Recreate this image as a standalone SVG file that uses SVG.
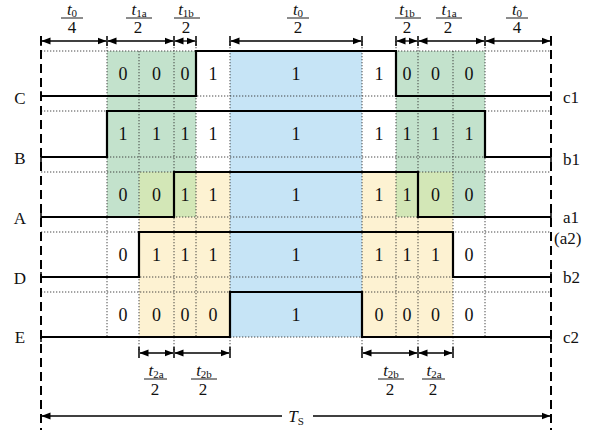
<svg xmlns="http://www.w3.org/2000/svg" width="603" height="430" viewBox="0 0 603 430" font-family="'Liberation Serif','Times New Roman',serif">
<style>
.t{font-family:"Liberation Serif","Times New Roman",serif;fill:#111}
.dig{font-size:18px;text-anchor:middle}
.lbl{font-size:17px;text-anchor:middle}
.rl{font-size:17px}
.num{font-size:17px;font-style:italic;text-anchor:middle}
.sub{font-size:11px;font-style:normal}
.den{font-size:17px;text-anchor:middle}
.dot{stroke:#333;stroke-width:0.9;stroke-dasharray:1.3 1.7;fill:none}
.sig{stroke:#000;stroke-width:2.2;fill:none;stroke-linejoin:miter}
.dim{stroke:#000;stroke-width:1.3;fill:none}
.tick{stroke:#000;stroke-width:1.5}
.dash{stroke:#000;stroke-width:2;stroke-dasharray:9 5;fill:none}
.bar{stroke:#000;stroke-width:0.9}
</style>
<defs>
<marker id="ah" markerWidth="9" markerHeight="8" refX="8.5" refY="4" orient="auto-start-reverse" markerUnits="userSpaceOnUse">
<path d="M0,0.5 L9,4 L0,7.5 z" fill="#000"/>
</marker>
</defs>

<g id="fills">
<rect x="107" y="51" width="89" height="166" fill="#c3e2cc"/>
<rect x="396" y="51" width="89" height="166" fill="#c3e2cc"/>
<rect x="139" y="172" width="91" height="165" fill="#fdf2d2"/>
<rect x="362" y="172" width="91" height="165" fill="#fdf2d2"/>
<rect x="139" y="172" width="57" height="45" fill="#d3e7b7"/>
<rect x="396" y="172" width="57" height="45" fill="#d3e7b7"/>
<rect x="230" y="51" width="132" height="286" fill="#c6e4f6"/>
</g>

<g id="grid">
<path class="dot" d="M41,51H551M41,96H551M41,111H551M41,157H551M41,172H551M41,217H551M41,232H551M41,277H551M41,292H551M41,337H551"/>
<path class="dot" d="M107,41V337M139,51V337M174,41V337M196,41V337M230,41V337M362,41V337M396,41V337M418,41V337M453,51V337M485,41V337"/>
<path class="dot" d="M139,337V350M174,337V350M230,337V350M362,337V350M418,337V350M453,337V350"/>
<path class="dash" d="M41,36V430M551,36V430"/>
</g>

<g id="connectors">
<g id="top-dims">
<path class="tick" d="M41,36V46M107,36V46M174,36V46M196,36V46M230,36V46M362,36V46M396,36V46M418,36V46M485,36V46M551,36V46"/>
<line class="dim" x1="42" y1="41" x2="106" y2="41" marker-start="url(#ah)" marker-end="url(#ah)"/>
<line class="dim" x1="108" y1="41" x2="173" y2="41" marker-start="url(#ah)" marker-end="url(#ah)"/>
<line class="dim" x1="175" y1="41" x2="195" y2="41" marker-start="url(#ah)" marker-end="url(#ah)"/>
<line class="dim" x1="231" y1="41" x2="361" y2="41" marker-start="url(#ah)" marker-end="url(#ah)"/>
<line class="dim" x1="397" y1="41" x2="417" y2="41" marker-start="url(#ah)" marker-end="url(#ah)"/>
<line class="dim" x1="419" y1="41" x2="484" y2="41" marker-start="url(#ah)" marker-end="url(#ah)"/>
<line class="dim" x1="486" y1="41" x2="550" y2="41" marker-start="url(#ah)" marker-end="url(#ah)"/>
</g>
<g id="bottom-dims">
<path class="tick" d="M139,347V358M174,347V358M230,347V358M362,347V358M418,347V358M453,347V358"/>
<line class="dim" x1="140" y1="353" x2="173" y2="353" marker-start="url(#ah)" marker-end="url(#ah)"/>
<line class="dim" x1="175" y1="353" x2="229" y2="353" marker-start="url(#ah)" marker-end="url(#ah)"/>
<line class="dim" x1="363" y1="353" x2="417" y2="353" marker-start="url(#ah)" marker-end="url(#ah)"/>
<line class="dim" x1="419" y1="353" x2="452" y2="353" marker-start="url(#ah)" marker-end="url(#ah)"/>
<line class="dim" x1="42" y1="416" x2="282" y2="416" marker-start="url(#ah)"/>
<line class="dim" x1="313" y1="416" x2="550" y2="416" marker-end="url(#ah)"/>
</g>
</g>

<g id="row-C">
<path class="sig" d="M41,96H196V51H396V96H551"/>
<path class="tick" d="M41,91V101M551,91V101"/>
<text class="t lbl" x="20" y="104">C</text>
<text class="t rl" x="563" y="103">c1</text>
<g class="t dig">
<text x="123" y="80">0</text><text x="156.5" y="80">0</text><text x="185" y="80">0</text><text x="213" y="80">1</text><text x="296" y="80">1</text><text x="379" y="80">1</text><text x="407" y="80">0</text><text x="435.5" y="80">0</text><text x="469" y="80">0</text>
</g>
</g>

<g id="row-B">
<path class="sig" d="M41,157H107V111H485V157H551"/>
<path class="tick" d="M41,152V162M551,152V162"/>
<text class="t lbl" x="20" y="164">B</text>
<text class="t rl" x="563" y="165">b1</text>
<g class="t dig">
<text x="123" y="140">1</text><text x="156.5" y="140">1</text><text x="185" y="140">1</text><text x="213" y="140">1</text><text x="296" y="140">1</text><text x="379" y="140">1</text><text x="407" y="140">1</text><text x="435.5" y="140">1</text><text x="469" y="140">1</text>
</g>
</g>

<g id="row-A">
<path class="sig" d="M41,217H174V172H418V217H551"/>
<path class="tick" d="M41,212V222M551,212V222"/>
<text class="t lbl" x="20" y="224">A</text>
<text class="t rl" x="563" y="223">a1</text>
<text class="t rl" x="554" y="244">(a2)</text>
<g class="t dig">
<text x="123" y="201">0</text><text x="156.5" y="201">0</text><text x="185" y="201">1</text><text x="213" y="201">1</text><text x="296" y="201">1</text><text x="379" y="201">1</text><text x="407" y="201">1</text><text x="435.5" y="201">0</text><text x="469" y="201">0</text>
</g>
</g>

<g id="row-D">
<path class="sig" d="M41,277H139V232H453V277H551"/>
<path class="tick" d="M41,272V282M551,272V282"/>
<text class="t lbl" x="20" y="284">D</text>
<text class="t rl" x="563" y="283">b2</text>
<g class="t dig">
<text x="123" y="261">0</text><text x="156.5" y="261">1</text><text x="185" y="261">1</text><text x="213" y="261">1</text><text x="296" y="261">1</text><text x="379" y="261">1</text><text x="407" y="261">1</text><text x="435.5" y="261">1</text><text x="469" y="261">0</text>
</g>
</g>

<g id="row-E">
<path class="sig" d="M41,337H230V292H362V337H551"/>
<path class="tick" d="M41,332V342M551,332V342"/>
<text class="t lbl" x="20" y="343">E</text>
<text class="t rl" x="563" y="343">c2</text>
<g class="t dig">
<text x="123" y="321">0</text><text x="156.5" y="321">0</text><text x="185" y="321">0</text><text x="213" y="321">0</text><text x="296" y="321">1</text><text x="379" y="321">0</text><text x="407" y="321">0</text><text x="435.5" y="321">0</text><text x="469" y="321">0</text>
</g>
</g>

<g id="top-labels">
<text class="t num" x="72" y="15">t<tspan class="sub" dy="2">0</tspan></text>
<line class="bar" x1="61" y1="18" x2="83" y2="18"/>
<text class="t den" x="72" y="33">4</text>
<text class="t num" x="139" y="15">t<tspan class="sub" dy="2">1a</tspan></text>
<line class="bar" x1="126" y1="18" x2="152" y2="18"/>
<text class="t den" x="138" y="33">2</text>
<text class="t num" x="186" y="15">t<tspan class="sub" dy="2">1b</tspan></text>
<line class="bar" x1="174" y1="18" x2="200" y2="18"/>
<text class="t den" x="186" y="33">2</text>
<text class="t num" x="298" y="15">t<tspan class="sub" dy="2">0</tspan></text>
<line class="bar" x1="287" y1="18" x2="309" y2="18"/>
<text class="t den" x="298" y="33">2</text>
<text class="t num" x="407" y="15">t<tspan class="sub" dy="2">1b</tspan></text>
<line class="bar" x1="395" y1="18" x2="421" y2="18"/>
<text class="t den" x="407" y="33">2</text>
<text class="t num" x="449" y="15">t<tspan class="sub" dy="2">1a</tspan></text>
<line class="bar" x1="436" y1="18" x2="462" y2="18"/>
<text class="t den" x="448" y="33">2</text>
<text class="t num" x="517" y="15">t<tspan class="sub" dy="2">0</tspan></text>
<line class="bar" x1="506" y1="18" x2="528" y2="18"/>
<text class="t den" x="517" y="33">4</text>
</g>

<g id="bottom-labels">
<text class="t num" x="156" y="376">t<tspan class="sub" dy="2">2a</tspan></text>
<line class="bar" x1="144" y1="379" x2="167" y2="379"/>
<text class="t den" x="155" y="395">2</text>
<text class="t num" x="204" y="376">t<tspan class="sub" dy="2">2b</tspan></text>
<line class="bar" x1="191" y1="379" x2="217" y2="379"/>
<text class="t den" x="203" y="395">2</text>
<text class="t num" x="391" y="376">t<tspan class="sub" dy="2">2b</tspan></text>
<line class="bar" x1="378" y1="379" x2="404" y2="379"/>
<text class="t den" x="390" y="395">2</text>
<text class="t num" x="434" y="376">t<tspan class="sub" dy="2">2a</tspan></text>
<line class="bar" x1="422" y1="379" x2="445" y2="379"/>
<text class="t den" x="433" y="395">2</text>
<text class="t num" x="296" y="422">T<tspan class="sub" dy="3">S</tspan></text>
</g>
</svg>
